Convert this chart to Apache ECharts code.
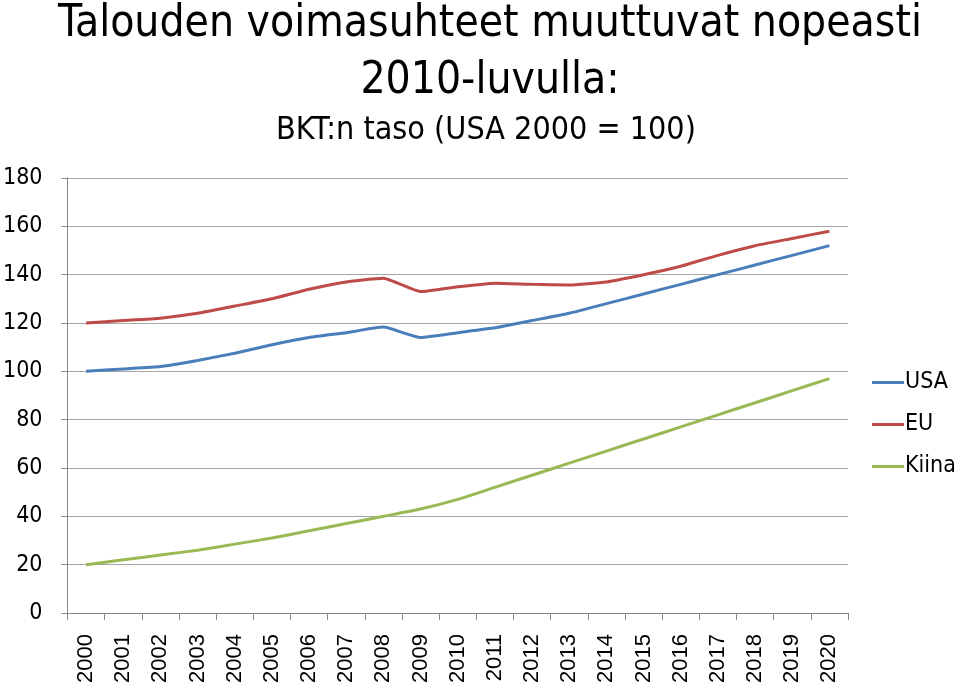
<!DOCTYPE html>
<html><head><meta charset="utf-8">
<script src="https://cdn.jsdelivr.net/npm/echarts@6/dist/echarts.min.js"></script>
<style>html,body{margin:0;padding:0;background:#fff}#c{width:960px;height:686px}</style>
</head><body><div id="c"></div>
<script>
const years = ['2000','2001','2002','2003','2004','2005','2006','2007','2008','2009','2010','2011','2012','2013','2014','2015','2016','2017','2018','2019','2020'];
const usa = [100,101,102,104.5,107.5,111,114,116,118.3,114,116,118,121,124,128,132,136,140,144,148,152];
const eu = [120,121,122,124,127,130,134,137,138.5,133,135,136.5,136,135.7,137,140,143.5,148,152,155,158];
const kiina = [20,22,24,26,28.5,31,34,37,40,43,47,52,57,62,67,72,77,82,87,92,97];
const yTicks = [0,20,40,60,80,100,120,140,160,180];
const FONT = '"Liberation Sans Narrow","DejaVu Sans Condensed","Open Sans",sans-serif';
const XFONT = '"Liberation Sans",Arial,sans-serif';
const chart = echarts.init(document.getElementById('c'));
chart.setOption({
  animation:false,
  backgroundColor:'#fff',
  title:[
    {text:'Talouden voimasuhteet muuttuvat nopeasti',left:485,top:-2,textAlign:'center',textStyle:{fontFamily:FONT,fontSize:44,fontWeight:'normal',color:'#000'}},
    {text:'2010-luvulla:',left:485,top:55,textAlign:'center',textStyle:{fontFamily:FONT,fontSize:44,fontWeight:'normal',color:'#000'}},
    {text:'BKT:n taso (USA 2000 = 100)',left:481,top:110,textAlign:'center',textStyle:{fontFamily:FONT,fontSize:32,fontWeight:'normal',color:'#000'}}
  ],
  legend:{
    orient:'vertical',left:867,top:366,itemGap:19,itemWidth:32,itemHeight:3,
    icon:'rect',
    textStyle:{fontFamily:FONT,fontSize:23,color:'#000',padding:[0,0,0,-4]},
    data:['USA','EU','Kiina']
  },
  grid:{left:67,right:112,top:178,bottom:73,containLabel:false},
  xAxis:{
    type:'category',data:years,boundaryGap:true,
    axisLine:{lineStyle:{color:'#888',width:1}},
    axisTick:{show:true,length:7,interval:0,lineStyle:{color:'#888'}},
    axisLabel:{rotate:90,interval:0,fontFamily:XFONT,fontSize:22,color:'#000',margin:21}
  },
  yAxis:{
    type:'value',min:0,max:180,interval:20,
    axisLine:{show:true,lineStyle:{color:'#888'}},
    axisTick:{show:true,length:6,lineStyle:{color:'#888'}},
    axisLabel:{fontFamily:FONT,fontSize:23,color:'#000',margin:25,
      formatter:v=>yTicks.includes(v)?String(v):''},
    splitLine:{lineStyle:{color:'#a6a6a6',width:1}}
  },
  series:[
    {name:'USA',type:'line',data:usa,smooth:0.15,symbol:'none',lineStyle:{color:'#4a7ebb',width:3},itemStyle:{color:'#4a7ebb'}},
    {name:'EU',type:'line',data:eu,smooth:0.15,symbol:'none',lineStyle:{color:'#be4b48',width:3},itemStyle:{color:'#be4b48'}},
    {name:'Kiina',type:'line',data:kiina,smooth:0.15,symbol:'none',lineStyle:{color:'#98b954',width:3},itemStyle:{color:'#98b954'}}
  ]
});
</script></body></html>
